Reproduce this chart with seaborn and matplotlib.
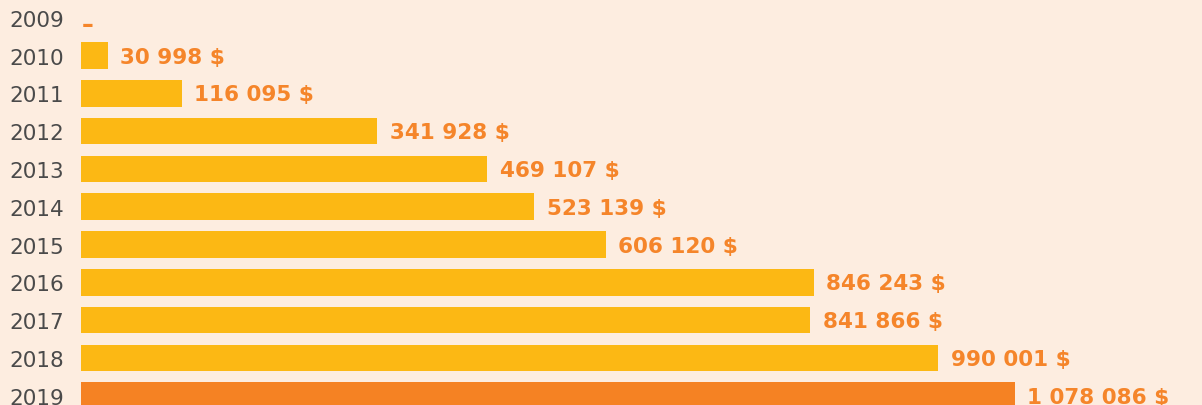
import matplotlib
matplotlib.use("Agg")
import matplotlib.pyplot as plt
import seaborn as sns
import pandas as pd

years = ["2009", "2010", "2011", "2012", "2013", "2014", "2015", "2016", "2017", "2018", "2019"]
values = [0, 30998, 116095, 341928, 469107, 523139, 606120, 846243, 841866, 990001, 1078086]
value_labels = ["–", "30 998 $", "116 095 $", "341 928 $", "469 107 $", "523 139 $",
                "606 120 $", "846 243 $", "841 866 $", "990 001 $", "1 078 086 $"]

BG = "#FDEDE0"
YELLOW = "#FCB814"
ORANGE = "#F58223"
TEXT_ORANGE = "#F5852A"
GRAY = "#4A4A4A"

sns.set_theme(style="white")
plt.rcParams["font.family"] = ["DejaVu Sans"]

df = pd.DataFrame({"year": years, "value": values})
colors = [YELLOW] * (len(years) - 1) + [ORANGE]

fig = plt.figure(figsize=(12.02, 4.06), dpi=100)
fig.patch.set_facecolor(BG)
ax = fig.add_axes([81 / 1202, 0, (1202 - 81) / 1202, 1])
ax.set_facecolor(BG)

sns.barplot(data=df, x="value", y="year", hue="year", palette=colors, order=years,
            orient="h", width=0.707, legend=False, ax=ax, saturation=1,
            linewidth=0, edgecolor="none")

ax.set_xlim(0, 1121 / 0.000866)
ax.set_ylim(10.246, -0.495)
ax.set_xlabel("")
ax.set_ylabel("")
ax.set_xticks([])
for s in ax.spines.values():
    s.set_visible(False)
ax.tick_params(axis="y", length=0, pad=12, labelsize=15.5, labelcolor=GRAY)
for t in ax.get_yticklabels():
    t.set_va("center_baseline")

for i, (v, lab) in enumerate(zip(values, value_labels)):
    if v == 0:
        off, size, wt = (0.5, -4.5), 17, "semibold"
    else:
        off, size, wt = (9, -0.8), 15.5, "bold"
    ax.annotate(lab, xy=(v, i), xytext=off, textcoords="offset points",
                ha="left", va="center", color=TEXT_ORANGE, fontsize=size,
                fontweight=wt, annotation_clip=False)

fig.savefig("out.png", dpi=100, facecolor=BG)
